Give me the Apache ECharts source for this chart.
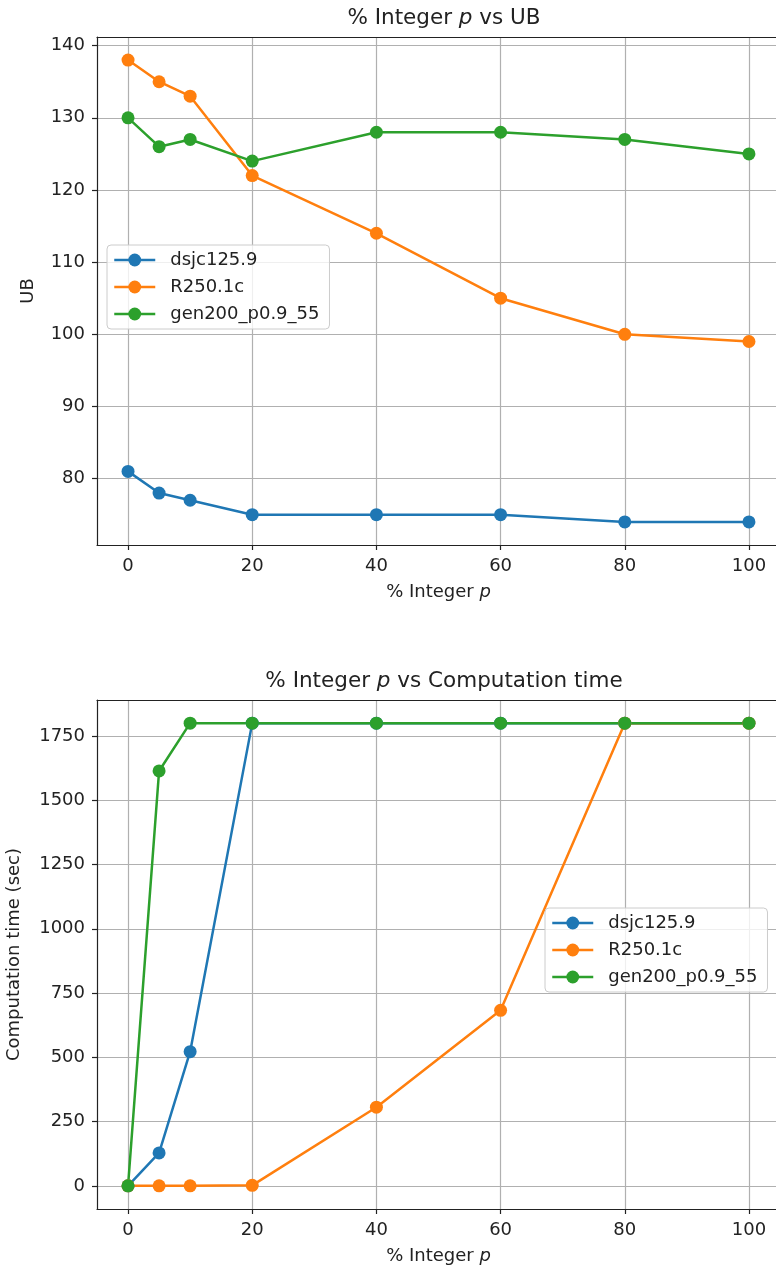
<!DOCTYPE html>
<html>
<head>
<meta charset="utf-8">
<script src="https://cdn.jsdelivr.net/npm/echarts@6/dist/echarts.min.js"></script>
<style>
html,body{margin:0;padding:0;background:#fff;}
#c{width:776px;height:1273px;}
</style>
</head>
<body>
<div id="c"></div>
<script>
// ---- data ----
const xValues = [0, 5, 10, 20, 40, 60, 80, 100];
const seriesNames = ['dsjc125.9', 'R250.1c', 'gen200_p0.9_55'];
const ubDsjc = [81, 78, 77, 75, 75, 75, 74, 74];
const ubR250 = [138, 135, 133, 122, 114, 105, 100, 99];
const ubGen200 = [130, 126, 127, 124, 128, 128, 127, 125];
const timeDsjc = [0, 128, 522, 1800, 1800, 1800, 1800, 1800];
const timeR250 = [0, 0, 0, 2, 306, 683, 1800, 1800];
const timeGen200 = [0, 1614, 1800, 1800, 1800, 1800, 1800, 1800];
const xTicks = [0, 20, 40, 60, 80, 100];
const ubTicks = [80, 90, 100, 110, 120, 130, 140];
const timeTicks = [0, 250, 500, 750, 1000, 1250, 1500, 1750];
const colors = ['#1f77b4', '#ff7f0e', '#2ca02c'];

const FONT = 'DejaVu Sans';
const chart = echarts.init(document.getElementById('c'), null, {renderer: 'canvas'});

function pairs(ys) { return xValues.map((x, i) => [x, ys[i]]); }
const plain = v => String(v);

function xAxisDef(gridIndex) {
  return {
    type: 'value', gridIndex: gridIndex, min: -5, max: 105, position: 'bottom',
    name: '% Integer {i|p}', nameLocation: 'middle', nameGap: 38,
    nameTextStyle: {fontFamily: FONT, fontSize: 18, color: '#222',
      rich: {i: {fontFamily: FONT, fontStyle: 'italic', fontSize: 18, color: '#222'}}},
    axisLine: {show: true, onZero: false, lineStyle: {color: '#222', width: 1.2}},
    axisTick: {show: true, inside: false, length: 5, customValues: xTicks, lineStyle: {color: '#222', width: 1.2}},
    axisLabel: {customValues: xTicks, formatter: plain, fontFamily: FONT, fontSize: 18, color: '#222', margin: 12},
    splitLine: {show: true, lineStyle: {color: '#b0b0b0', width: 1.2}}
  };
}
function topSpine(gridIndex) {
  return {
    type: 'value', gridIndex: gridIndex, min: -5, max: 105, position: 'top',
    axisLine: {show: true, onZero: false, lineStyle: {color: '#222', width: 1.2}},
    axisTick: {show: false}, axisLabel: {show: false}, splitLine: {show: false}
  };
}
function yAxisDef(gridIndex, min, max, ticks, name, gap) {
  return {
    type: 'value', gridIndex: gridIndex, min: min, max: max,
    name: name, nameLocation: 'middle', nameGap: gap,
    nameTextStyle: {fontFamily: FONT, fontSize: 18, color: '#222'},
    axisLine: {show: true, onZero: false, lineStyle: {color: '#222', width: 1.2}},
    axisTick: {show: true, inside: false, length: 5, customValues: ticks, lineStyle: {color: '#222', width: 1.2}},
    axisLabel: {customValues: ticks, formatter: plain, fontFamily: FONT, fontSize: 18, color: '#222', margin: 12},
    splitLine: {show: true, lineStyle: {color: '#b0b0b0', width: 1.2}}
  };
}
function lineSeries(name, data, colorIdx, axisIdx) {
  return {
    type: 'line', name: name, data: pairs(data),
    xAxisIndex: axisIdx, yAxisIndex: axisIdx,
    symbol: 'circle', symbolSize: 13, showAllSymbol: true,
    color: colors[colorIdx],
    lineStyle: {width: 2.5, color: colors[colorIdx]},
    itemStyle: {color: colors[colorIdx]},
    emphasis: {disabled: true}, animation: false, clip: false
  };
}
const legendCommon = {
  orient: 'vertical', itemWidth: 41, itemHeight: 16, itemGap: 9,
  backgroundColor: 'rgba(255,255,255,0.8)', borderColor: '#cccccc', borderWidth: 1, borderRadius: 4,
  padding: [6, 10, 6, 6],
  lineStyle: {width: 2.5},
  textStyle: {fontFamily: FONT, fontSize: 18, color: '#222', padding: [0, 0, 0, 10]}
};

const option = {
  backgroundColor: '#fff',
  animation: false,
  title: [
    {text: '% Integer {i|p} vs UB', left: 439, top: 2, textAlign: 'center',
     textStyle: {fontFamily: FONT, fontSize: 21.5, fontWeight: 'normal', color: '#222',
       rich: {i: {fontFamily: FONT, fontStyle: 'italic', fontSize: 21.5, color: '#222'}}}},
    {text: '% Integer {i|p} vs Computation time', left: 439, top: 665, textAlign: 'center',
     textStyle: {fontFamily: FONT, fontSize: 21.5, fontWeight: 'normal', color: '#222',
       rich: {i: {fontFamily: FONT, fontStyle: 'italic', fontSize: 21.5, color: '#222'}}}}
  ],
  grid: [
    {left: 97, top: 37, width: 683, height: 508, containLabel: false, outerBoundsMode: 'none', show: false},
    {left: 97, top: 700, width: 683, height: 509, containLabel: false, outerBoundsMode: 'none', show: false}
  ],
  xAxis: [xAxisDef(0), xAxisDef(1), topSpine(0), topSpine(1)],
  yAxis: [
    yAxisDef(0, 70.8, 141.2, ubTicks, 'UB', 60),
    yAxisDef(1, -90, 1890, timeTicks, 'Computation time (sec)', 74)
  ],
  legend: [
    Object.assign({}, legendCommon, {left: 107, top: 245, data: seriesNames, selectedMode: false}),
  ],
  series: [
    lineSeries(seriesNames[0], ubDsjc, 0, 0),
    lineSeries(seriesNames[1], ubR250, 1, 0),
    lineSeries(seriesNames[2], ubGen200, 2, 0),
    lineSeries(seriesNames[0], timeDsjc, 0, 1),
    lineSeries(seriesNames[1], timeR250, 1, 1),
    lineSeries(seriesNames[2], timeGen200, 2, 1)
  ]
};
option.legend.push(Object.assign({}, legendCommon, {left: 545, top: 908, data: seriesNames, selectedMode: false}));
chart.setOption(option);
</script>
</body>
</html>
